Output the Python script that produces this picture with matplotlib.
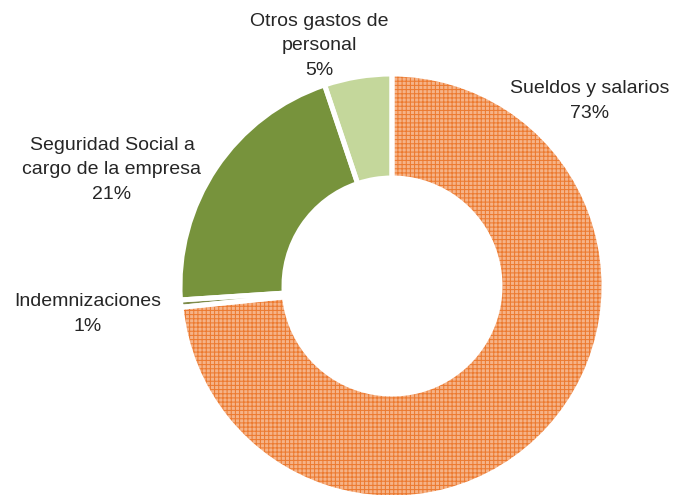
import matplotlib.pyplot as plt
from matplotlib.patches import Wedge

plt.rcParams['font.family'] = ['Liberation Sans', 'DejaVu Sans']
plt.rcParams['hatch.linewidth'] = 0.75

categories = ["Sueldos y salarios", "Indemnizaciones",
              "Seguridad Social a\ncargo de la empresa",
              "Otros gastos de\npersonal"]
values = [73.4, 0.55, 20.9, 5.15]
colors = ["#F5B388", "#7E8C4A", "#77933C", "#C4D79B"]

# label positions (pixel coords, y up)
label_xy = [(590, 394), (88, 181), (112, 325), (319, 449)]

cx, cy = 392, 209
r_out = 212
width = 104

fig = plt.figure(figsize=(6.74, 4.95), dpi=100)
ax = fig.add_axes([0, 0, 1, 1])

wedges, _ = ax.pie(values, colors=colors, startangle=90, counterclock=False,
                   center=(cx, cy), radius=r_out,
                   wedgeprops=dict(width=width, linewidth=0))

# grid hatch on the big slice
w = wedges[0]
hatch = Wedge((cx, cy), r_out, w.theta1, w.theta2, width=width,
              fill=False, edgecolor="#EC7A30", linewidth=0, hatch="++++",
              zorder=w.get_zorder() + 0.5)
ax.add_patch(hatch)

# white gaps between slices
for w in wedges:
    gap = Wedge((cx, cy), r_out, w.theta1, w.theta2, width=width,
                fill=False, edgecolor="white", linewidth=3.6,
                zorder=w.get_zorder() + 1)
    ax.add_patch(gap)

for lab, v, (x, y) in zip(categories, values, label_xy):
    ax.text(x, y, "%s\n%d%%" % (lab, round(v)), ha="center", va="center",
            fontsize=14, color="#262626", linespacing=1.55)

ax.set_xlim(0, 674)
ax.set_ylim(0, 495)
ax.set_aspect("equal")
ax.axis("off")

fig.savefig("out.png", dpi=100)
